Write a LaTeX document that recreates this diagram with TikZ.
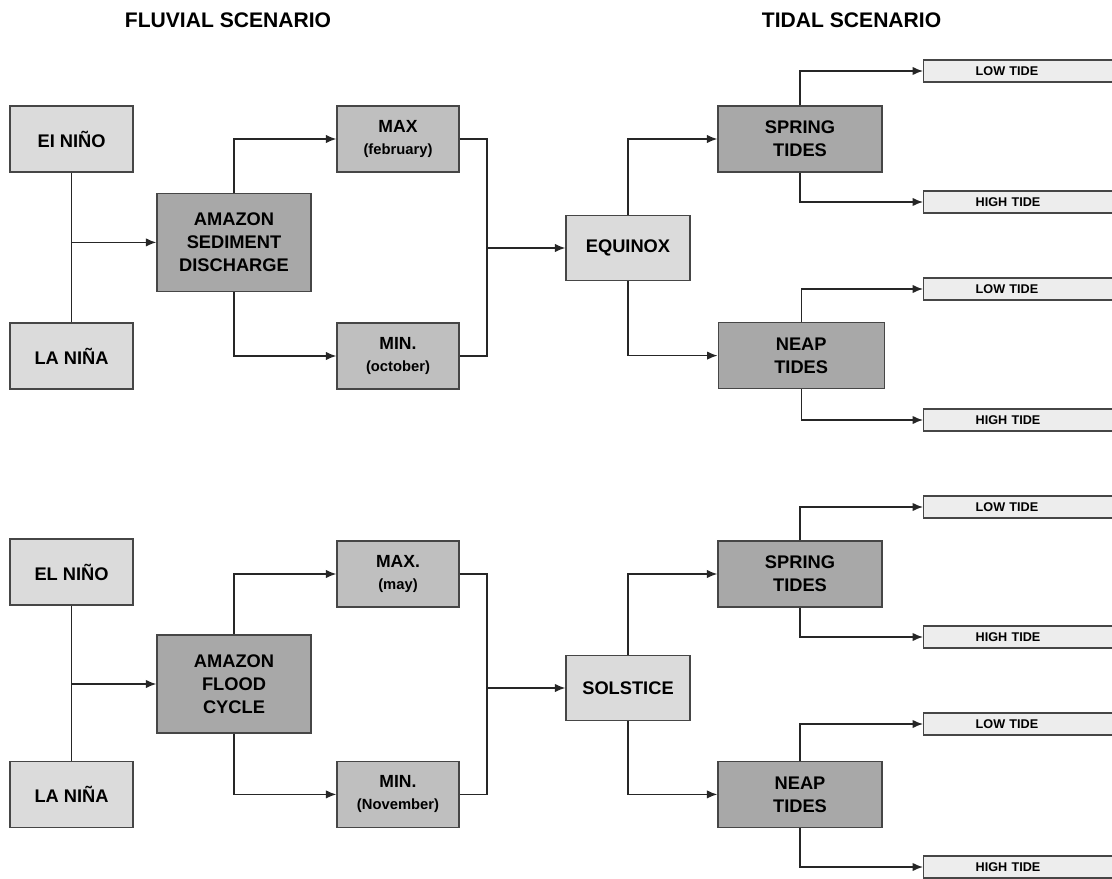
\documentclass[tikz,border=0pt]{standalone}
\usepackage{fontspec}
\setmainfont{Liberation Sans}
\usetikzlibrary{arrows.meta}

\newcommand{\period}[1]{{\fontsize{10.5}{12}\selectfont #1}}

\begin{document}
\begin{tikzpicture}[>={Latex[length=2.6mm,width=2.1mm]}]
	\tikzset{box/.style={draw=gray!55!black, line width=1pt, align=center, inner sep=2pt, font=\bfseries\fontsize{13}{16.5}\selectfont}}
	\tikzset{lightbox/.style={box, fill=gray!28, minimum width=3.075cm, minimum height=1.65cm}}
	\tikzset{midbox/.style={box, fill=gray!50, minimum width=3.05cm, minimum height=1.65cm, font=\bfseries\fontsize{12.5}{15.6}\selectfont}}
	\tikzset{darkbox/.style={box, fill=gray!68, minimum width=4.1cm, minimum height=1.65cm}}
	\tikzset{tidebox/.style={box, fill=gray!14, anchor=west, minimum height=0.55cm, inner ysep=0pt, inner xsep=1.3cm, text width=2.6cm, align=left, font=\bfseries\fontsize{9}{10}\selectfont}}
	\tikzset{wire/.style={draw=black!85, line width=1pt}}

	\useasboundingbox (0,0) rectangle (27.8,-21.975);
	\clip (0,0) rectangle (27.8,-21.975);

	\node[font=\bfseries\fontsize{15}{18}\selectfont] (fluvial) at (5.7,-0.5) {FLUVIAL SCENARIO};
	\node[font=\bfseries\fontsize{15}{18}\selectfont] (tidal) at (21.29,-0.5) {TIDAL SCENARIO};

	\node[lightbox] (elnino1) at (1.79,-3.475) {EI NIÑO};
	\node[lightbox] (lanina1) at (1.79,-8.9) {LA NIÑA};
	\node[darkbox, minimum width=3.85cm, minimum height=2.45cm] (amazon1) at (5.85,-6.06) {AMAZON\\SEDIMENT\\DISCHARGE};
	\node[midbox] (max1) at (9.95,-3.475) {MAX\\\period{(february)}};
	\node[midbox] (min1) at (9.95,-8.9) {MIN.\\\period{(october)}};
	\coordinate (join1) at (12.175,-6.2);
	\node[lightbox, minimum width=3.1cm, minimum height=1.625cm] (equinox) at (15.7,-6.2) {EQUINOX};
	\node[darkbox] (spring1) at (20,-3.475) {SPRING\\TIDES};
	\node[darkbox, minimum width=4.15cm] (neap1) at (20.03,-8.89) {NEAP\\TIDES};
	\node[tidebox] (low1) at (23.075,-1.775) {LOW TIDE};
	\node[tidebox] (high1) at (23.075,-5.05) {HIGH TIDE};
	\node[tidebox] (low2) at (23.075,-7.225) {LOW TIDE};
	\node[tidebox] (high2) at (23.075,-10.5) {HIGH TIDE};

	\draw[wire] (elnino1) -- (lanina1);
	\draw[wire,->] (elnino1 |- amazon1) -- (amazon1);
	\draw[wire,->] (amazon1.north) |- (max1.west);
	\draw[wire,->] (amazon1.south) |- (min1.west);
	\draw[wire] (max1.east) -| (join1) |- (min1.east);
	\draw[wire,->] (join1) -- (equinox);
	\draw[wire,->] (equinox.north) |- (spring1.west);
	\draw[wire,->] (equinox.south) |- (neap1.west);
	\draw[wire,->] (spring1.north) |- (low1.west);
	\draw[wire,->] (spring1.south) |- (high1.west);
	\draw[wire,->] (neap1.north) |- (low2.west);
	\draw[wire,->] (neap1.south) |- (high2.west);

	\begin{scope}[yshift=-10.9cm]
		\node[lightbox] (elnino2) at (1.79,-3.4) {EL NIÑO};
		\node[lightbox] (lanina2) at (1.79,-8.96) {LA NIÑA};
		\node[darkbox, minimum width=3.85cm, minimum height=2.45cm] (amazon2) at (5.85,-6.2) {AMAZON\\FLOOD\\CYCLE};
		\node[midbox] (max2) at (9.95,-3.45) {MAX.\\\period{(may)}};
		\node[midbox] (min2) at (9.95,-8.96) {MIN.\\\period{(November)}};
		\coordinate (join2) at (12.175,-6.3);
		\node[lightbox, minimum width=3.1cm, minimum height=1.625cm] (solstice) at (15.7,-6.3) {SOLSTICE};
		\node[darkbox] (spring2) at (20,-3.45) {SPRING\\TIDES};
		\node[darkbox] (neap2) at (20,-8.96) {NEAP\\TIDES};
		\node[tidebox] (low3) at (23.075,-1.775) {LOW TIDE};
		\node[tidebox] (high3) at (23.075,-5.025) {HIGH TIDE};
		\node[tidebox] (low4) at (23.075,-7.2) {LOW TIDE};
		\node[tidebox] (high4) at (23.075,-10.775) {HIGH TIDE};

		\draw[wire] (elnino2) -- (lanina2);
		\draw[wire,->] (elnino2 |- amazon2) -- (amazon2);
		\draw[wire,->] (amazon2.north) |- (max2.west);
		\draw[wire,->] (amazon2.south) |- (min2.west);
		\draw[wire] (max2.east) -| (join2) |- (min2.east);
		\draw[wire,->] (join2) -- (solstice);
		\draw[wire,->] (solstice.north) |- (spring2.west);
		\draw[wire,->] (solstice.south) |- (neap2.west);
		\draw[wire,->] (spring2.north) |- (low3.west);
		\draw[wire,->] (spring2.south) |- (high3.west);
		\draw[wire,->] (neap2.north) |- (low4.west);
		\draw[wire,->] (neap2.south) |- (high4.west);
	\end{scope}
\end{tikzpicture}
\end{document}
